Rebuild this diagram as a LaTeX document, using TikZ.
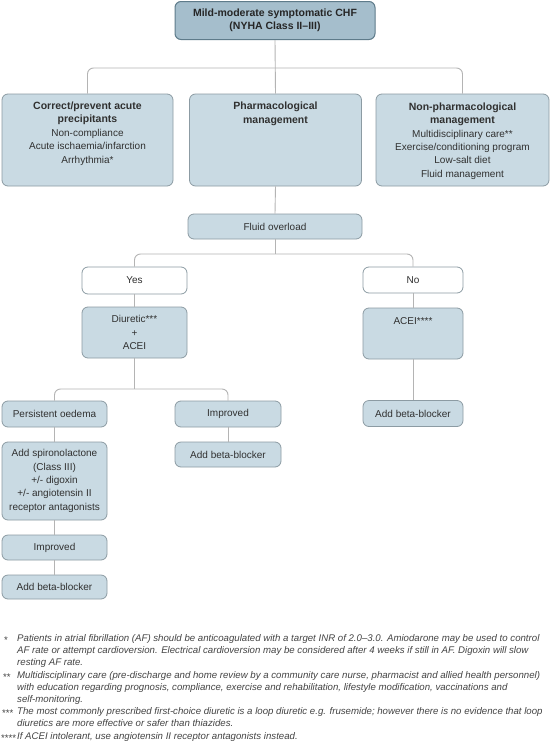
\documentclass[tikz,border=0pt]{standalone}
\usepackage{fontspec}
\setmainfont{Liberation Sans}
\usetikzlibrary{calc}
\definecolor{boxfill}{HTML}{C9DAE3}
\definecolor{topfill}{HTML}{A5BECC}
\definecolor{boxline}{HTML}{8C9BA3}
\definecolor{topline}{HTML}{5E7B8A}
\definecolor{connc}{HTML}{B4B4B4}
\definecolor{txtc}{HTML}{303030}
\definecolor{fnc}{HTML}{444444}
\begin{document}
\begin{tikzpicture}[x=1pt,y=-1pt,
  bx/.style={draw=boxline, fill=boxfill, rounded corners=6pt, line width=0.8pt, inner sep=0pt, text=txtc, font=\fontsize{10}{13.4}\selectfont, align=center},
  wbx/.style={bx, fill=white},
  tbx/.style={bx, fill=topfill, draw=topline, line width=1pt},
  tx/.style={text=txtc, align=center, font=\fontsize{10}{13.4}\selectfont, inner sep=0pt},
  fn/.style={text=fnc, align=left, font=\fontsize{9.65}{12}\selectfont\itshape, inner sep=0pt},
  fnm/.style={text=fnc, font=\fontsize{9.65}{12}\selectfont, inner sep=0pt},
  cn/.style={draw=connc, line width=0.9pt, rounded corners=6pt}]
\useasboundingbox (0,0) rectangle (550,750);
\fill[white] (0,0) rectangle (550,750);

% coordinates for buses
\coordinate (bus1) at (0,68);
\coordinate (bus2) at (0,254);
\coordinate (bus3) at (0,389);

% top
\node[tbx, minimum width=200, minimum height=38] (top) at (275,20.5) {};
\node[tx, font=\fontsize{10.5}{13}\selectfont\bfseries, text=black!85] at (275,20.5) {Mild-moderate symptomatic CHF\\(NYHA Class II--III)};

% three boxes
\node[bx, minimum width=171, minimum height=92] (b1) at (87.5,140) {};
\node[bx, minimum width=172, minimum height=92] (b2) at (275.5,140) {};
\node[bx, minimum width=173, minimum height=92] (b3) at (462.5,140) {};
\node[tx] at (87.5,133.5) {\textbf{\fontsize{10.5}{13.4}\selectfont Correct/prevent acute}\\\textbf{\fontsize{10.5}{13.4}\selectfont precipitants}\\Non-compliance\\Acute ischaemia/infarction\\Arrhythmia*};
\node[tx] at (275.5,114) {\textbf{\fontsize{10.5}{13.4}\selectfont Pharmacological}\\\textbf{\fontsize{10.5}{13.4}\selectfont management}};
\node[tx] at (462.5,141) {\textbf{\fontsize{10.5}{13.4}\selectfont Non-pharmacological}\\\textbf{\fontsize{10.5}{13.4}\selectfont management}\\Multidisciplinary care**\\Exercise/conditioning program\\Low-salt diet\\Fluid management};

% fluid overload
\node[bx, minimum width=174, minimum height=25] (fluid) at (275,226.5) {Fluid overload};

% yes / no
\node[wbx, minimum width=105, minimum height=27] (yes) at (134.5,280.5) {Yes};
\node[wbx, minimum width=100, minimum height=26] (no) at (413,280) {No};

\node[bx, minimum width=105, minimum height=51] (diur) at (134.5,332.5) {Diuretic***\\+\\ACEI};
\node[bx, minimum width=100, minimum height=51] (acei) at (413,333.5) {};
\node[tx] at (413,321) {ACEI****};

% left branch
\node[bx, minimum width=105, minimum height=26] (pers) at (54.5,414) {Persistent oedema};
\node[bx, minimum width=105, minimum height=78] (spiro) at (54.5,481) {Add spironolactone\\(Class III)\\+/- digoxin\\+/- angiotensin II\\receptor antagonists};
\node[bx, minimum width=105, minimum height=25] (impl) at (54.5,547.5) {Improved};
\node[bx, minimum width=105, minimum height=24] (bbl) at (54.5,587) {Add beta-blocker};

% middle branch
\node[bx, minimum width=106, minimum height=26] (impr) at (228,414) {Improved};
\node[bx, minimum width=106, minimum height=25] (bbm) at (228,454.5) {Add beta-blocker};

% right branch
\node[bx, minimum width=100, minimum height=26] (bbr) at (413,413.5) {Add beta-blocker};

% connectors
\draw[cn] (top.south) -- (b2.north);
\draw[cn] (b1.north) -- (b1.north |- bus1) -- (b3.north |- bus1) -- (b3.north);
\draw[cn] (b2.south) -- (fluid.north);
\draw[cn] (fluid.south) -- (fluid.south |- bus2);
\draw[cn] (yes.north) -- (yes.north |- bus2) -- (no.north |- bus2) -- (no.north);
\draw[cn] (yes.south) -- (diur.north);
\draw[cn] (no.south) -- (acei.north);
\draw[cn] (acei.south) -- (bbr.north);
\draw[cn] (diur.south) -- (diur.south |- bus3);
\draw[cn] (pers.north) -- (pers.north |- bus3) -- (impr.north |- bus3) -- (impr.north);
\draw[cn] (pers.south) -- (spiro.north);
\draw[cn] (spiro.south) -- (impl.north);
\draw[cn] (impl.south) -- (bbl.north);
\draw[cn] (impr.south) -- (bbm.north);

% footnotes
\node[fnm, anchor=west] (m1) at (4,640) {*};
\node[fn, anchor=north west] (f1) at (17,634.5) {Patients in atrial fibrillation (AF) should be anticoagulated with a target INR of 2.0–3.0. Amiodarone may be used to control\\AF rate or attempt cardioversion. Electrical cardioversion may be considered after 4 weeks if still in AF. Digoxin will slow\\resting AF rate.};
\node[fnm, anchor=west] (m2) at (3,677) {**};
\node[fn, anchor=north west] (f2) at (17,671.5) {Multidisciplinary care (pre-discharge and home review by a community care nurse, pharmacist and allied health personnel)\\with education regarding prognosis, compliance, exercise and rehabilitation, lifestyle modification, vaccinations and\\self-monitoring.};
\node[fnm, anchor=west] (m3) at (2,713) {***};
\node[fn, anchor=north west] (f3) at (17,707.5) {The most commonly prescribed first-choice diuretic is a loop diuretic e.g. frusemide; however there is no evidence that loop\\diuretics are more effective or safer than thiazides.};
\node[fnm, anchor=west] (m4) at (1,738) {****};
\node[fn, anchor=north west] (f4) at (17,732.5) {If ACEI intolerant, use angiotensin II receptor antagonists instead.};
\end{tikzpicture}
\end{document}
